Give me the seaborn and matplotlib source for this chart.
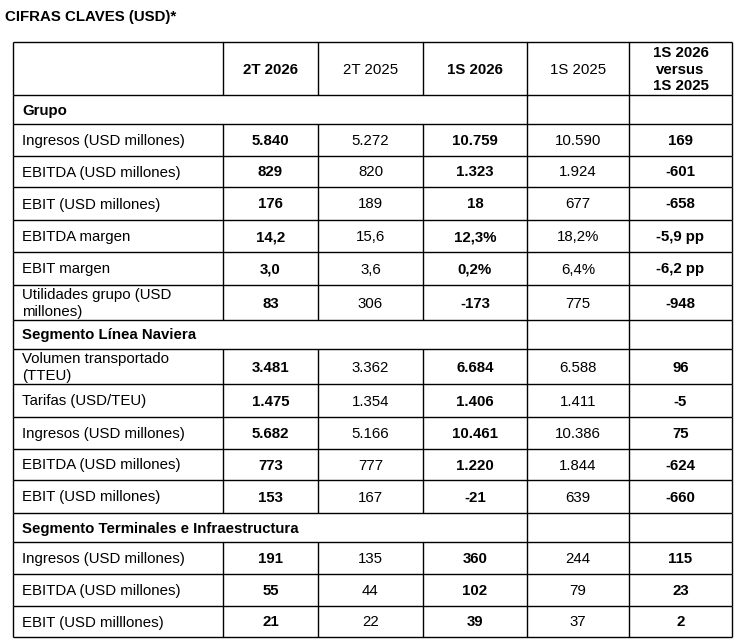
import matplotlib
matplotlib.use("Agg")
import matplotlib.pyplot as plt
import seaborn as sns

# --- table content ---
title = "CIFRAS CLAVES (USD)*"
columns = ["2T 2026", "2T 2025", "1S 2026", "1S 2025", "1S 2026\nversus\n1S 2025"]
bold_cols = [True, False, True, False, True]

sections = ["Grupo", "Segmento Línea Naviera", "Segmento Terminales e Infraestructura"]

grupo_labels = ["Ingresos (USD millones)", "EBITDA (USD millones)", "EBIT (USD millones)",
                "EBITDA margen", "EBIT margen", "Utilidades grupo (USD\nmillones)"]
grupo_2t26 = ["5.840", "829", "176", "14,2", "3,0", "83"]
grupo_2t25 = ["5.272", "820", "189", "15,6", "3,6", "306"]
grupo_1s26 = ["10.759", "1.323", "18", "12,3%", "0,2%", "-173"]
grupo_1s25 = ["10.590", "1.924", "677", "18,2%", "6,4%", "775"]
grupo_vs = ["169", "-601", "-658", "-5,9 pp", "-6,2 pp", "-948"]

naviera_labels = ["Volumen transportado\n(TTEU)", "Tarifas (USD/TEU)", "Ingresos (USD millones)",
                  "EBITDA (USD millones)", "EBIT (USD millones)"]
naviera_2t26 = ["3.481", "1.475", "5.682", "773", "153"]
naviera_2t25 = ["3.362", "1.354", "5.166", "777", "167"]
naviera_1s26 = ["6.684", "1.406", "10.461", "1.220", "-21"]
naviera_1s25 = ["6.588", "1.411", "10.386", "1.844", "639"]
naviera_vs = ["96", "-5", "75", "-624", "-660"]

term_labels = ["Ingresos (USD millones)", "EBITDA (USD millones)", "EBIT (USD milllones)"]
term_2t26 = ["191", "55", "21"]
term_2t25 = ["135", "44", "22"]
term_1s26 = ["360", "102", "39"]
term_1s25 = ["244", "79", "37"]
term_vs = ["115", "23", "2"]

blocks = [
    (sections[0], grupo_labels, [grupo_2t26, grupo_2t25, grupo_1s26, grupo_1s25, grupo_vs]),
    (sections[1], naviera_labels, [naviera_2t26, naviera_2t25, naviera_1s26, naviera_1s25, naviera_vs]),
    (sections[2], term_labels, [term_2t26, term_2t25, term_1s26, term_1s25, term_vs]),
]

# --- layout (pixel grid) ---
col_edges = [13, 223, 318, 423, 527, 629, 732]
row_edges = [42, 95, 124, 156, 187, 220, 252, 285, 320, 349, 384, 417, 449, 480, 513, 542, 574, 606, 637]

sns.set_theme(style="white")
plt.rcParams["font.family"] = ["Liberation Sans", "DejaVu Sans"]
plt.rcParams["text.color"] = "black"
fs = 10.8

fig = plt.figure(figsize=(7.37, 6.42), dpi=100)
ax = fig.add_axes([0, 0, 1, 1])
ax.set_xlim(0, 737)
ax.set_ylim(642, 0)
ax.axis("off")

lw = 1.0
dy = 1.0  # small downward nudge so text sits centred like the PDF render
ax.text(5, 17, title, fontsize=fs, fontweight="bold", ha="left", va="center")

# header row
ax.hlines(row_edges[0], col_edges[0], col_edges[-1], color="black", lw=lw)
ax.vlines(col_edges, row_edges[0], row_edges[1], color="black", lw=lw)
yc = (row_edges[0] + row_edges[1]) / 2 + dy
for j, name in enumerate(columns):
    xc = (col_edges[j + 1] + col_edges[j + 2]) / 2
    ax.text(xc, yc, name, fontsize=fs, ha="center", va="center", linespacing=1.2,
            fontweight="bold" if bold_cols[j] else "normal")

r = 1
for sec, labels, vals in blocks:
    top, bot = row_edges[r], row_edges[r + 1]
    ax.hlines(top, col_edges[0], col_edges[-1], color="black", lw=lw)
    ax.vlines([col_edges[0], col_edges[4], col_edges[5], col_edges[6]], top, bot, color="black", lw=lw)
    ax.text(22, (top + bot) / 2 + dy, sec, fontsize=fs, fontweight="bold", ha="left", va="center")
    r += 1
    for i, lab in enumerate(labels):
        top, bot = row_edges[r], row_edges[r + 1]
        yc = (top + bot) / 2 + dy
        ax.hlines(top, col_edges[0], col_edges[-1], color="black", lw=lw)
        ax.vlines(col_edges, top, bot, color="black", lw=lw)
        ax.text(22, yc, lab, fontsize=fs, ha="left", va="center", linespacing=1.2)
        for j in range(5):
            xc = (col_edges[j + 1] + col_edges[j + 2]) / 2
            ax.text(xc, yc, vals[j][i], fontsize=fs, ha="center", va="center",
                    fontweight="bold" if bold_cols[j] else "normal")
        r += 1

ax.hlines(row_edges[-1], col_edges[0], col_edges[-1], color="black", lw=lw)

fig.savefig("out.png", dpi=100)
